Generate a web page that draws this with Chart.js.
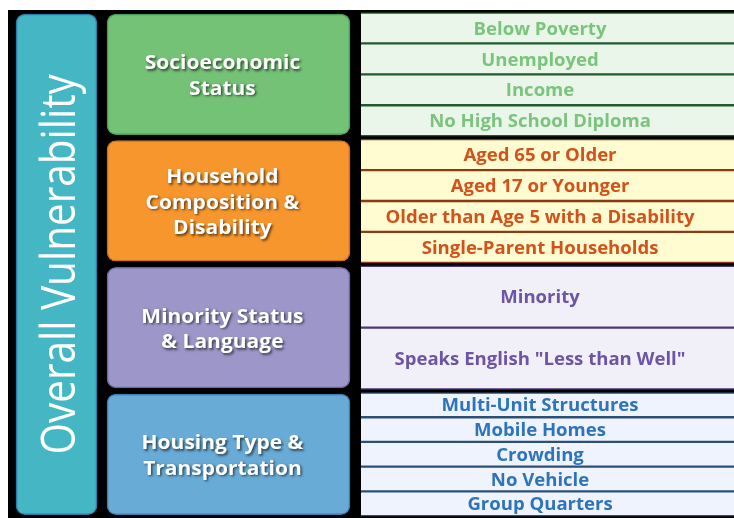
<!DOCTYPE html>
<html><head><meta charset="utf-8">
<script src="https://cdn.jsdelivr.net/npm/chart.js@4"></script>
<style>
html,body{margin:0;padding:0;background:#fff;}
#wrap{position:absolute;left:8px;top:10px;width:726px;height:508px;background:#000;overflow:hidden;}
canvas{display:block;}
</style></head><body>
<div id="wrap"><canvas id="c" width="726" height="508"></canvas></div>
<script>
// ---- data ----
const overallLabel = 'Overall Vulnerability';
const themes = ['Socioeconomic Status', 'Household Composition & Disability', 'Minority Status & Language', 'Housing Type & Transportation'];
const themeLines = [['Socioeconomic', 'Status'], ['Household', 'Composition &', 'Disability'], ['Minority Status', '& Language'], ['Housing Type &', 'Transportation']];
const variables = [
  ['Below Poverty', 'Unemployed', 'Income', 'No High School Diploma'],
  ['Aged 65 or Older', 'Aged 17 or Younger', 'Older than Age 5 with a Disability', 'Single-Parent Households'],
  ['Minority', 'Speaks English "Less than Well"'],
  ['Multi-Unit Structures', 'Mobile Homes', 'Crowding', 'No Vehicle', 'Group Quarters']
];
// ---- styles ----
const overallColor = '#45B6C4', overallBorder = '#2B7DAA';
const themeFill = ['#73C275', '#F7962D', '#9C96C9', '#68ABD6'];
const themeBorder = ['#4F9C57', '#C9701F', '#6F67A4', '#3F7FAF'];
const itemFill = ['#EBF6EA', '#FFFCD2', '#F1F0F8', '#EEF3FD'];
const itemBorder = ['#1F5B2E', '#8B3B12', '#4A3A76', '#2C4F74'];
const itemText = ['#7BC47E', '#D2521B', '#6E54A5', '#2F74BA'];

// ---- layout (fractions of plot width, theme units vertically) ----
const W = 726;
const cols = [[0.011, 0.1226], [0.1364, 0.4711], [0.4862, 1.0]];
const ctr = c => (c[0] + c[1]) / 2;
const thick = c => (c[1] - c[0]) * W;
const gapT = 0.024, gapV = 0.012;

const overallData = [{x: ctr(cols[0]), y: [gapT, themes.length - gapT]}];
const themeData = themes.map((t, i) => ({x: ctr(cols[1]), y: [i + gapT, i + 1 - gapT]}));
const itemData = [], itemFills = [], itemBorders = [], itemLabels = [], itemColors = [];
variables.forEach((vs, i) => {
  const h = (1 - 2 * gapV) / vs.length;
  vs.forEach((v, j) => {
    itemData.push({x: ctr(cols[2]), y: [i + gapV + j * h, i + gapV + (j + 1) * h]});
    itemFills.push(itemFill[i]); itemBorders.push(itemBorder[i]);
    itemLabels.push(v); itemColors.push(itemText[i]);
  });
});

const labelPlugin = {
  id: 'labels',
  afterDatasetsDraw(chart) {
    const ctx = chart.ctx;
    // overall vertical title
    const m0 = chart.getDatasetMeta(0).data[0];
    const cy0 = (m0.y + m0.base) / 2;
    ctx.save();
    const fs0 = 47;
    ctx.font = `500 ${fs0}px "Open Sans"`;
    const tw = ctx.measureText(overallLabel).width;
    const target = Math.abs(m0.base - m0.y) * 0.76;
    const sx = Math.min(1, target / tw);
    ctx.translate(m0.x + fs0 * 0.39, cy0);
    ctx.rotate(-Math.PI / 2);
    ctx.scale(sx, 1);
    ctx.fillStyle = '#FFFFFF';
    ctx.textAlign = 'center';
    ctx.textBaseline = 'alphabetic';
    ctx.fillText(overallLabel, 0, 0);
    ctx.restore();

    // theme labels
    chart.getDatasetMeta(1).data.forEach((el, i) => {
      const lines = themeLines[i];
      const cy = (el.y + el.base) / 2 + 2;
      const cx = el.x - el.width / 2 + el.width * 0.475;
      const lh = 25.5;
      ctx.save();
      ctx.font = `700 20px "Open Sans"`;
      ctx.textAlign = 'center';
      ctx.textBaseline = 'middle';
      ctx.fillStyle = '#FFFFFF';
      ctx.shadowColor = 'rgba(0,0,0,0.6)';
      ctx.shadowOffsetX = 1.5; ctx.shadowOffsetY = 1.5; ctx.shadowBlur = 2.5;
      lines.forEach((ln, k) => {
        const y = cy + (k - (lines.length - 1) / 2) * lh;
        ctx.save();
        ctx.translate(cx, y);
        ctx.scale(1.05, 1);
        ctx.fillText(ln, 0, 0);
        ctx.restore();
      });
      ctx.restore();
    });

    // variable labels
    chart.getDatasetMeta(2).data.forEach((el, i) => {
      const cy = (el.y + el.base) / 2;
      const left = el.x - el.width / 2;
      const cx = left + el.width * 0.48;
      ctx.save();
      ctx.font = `700 18px "Open Sans"`;
      ctx.textAlign = 'center';
      ctx.textBaseline = 'middle';
      ctx.fillStyle = itemColors[i];
      ctx.translate(cx, cy + 1.5);
      ctx.scale(1.03, 1);
      ctx.fillText(itemLabels[i], 0, 0);
      ctx.restore();
    });
  }
};

new Chart(document.getElementById('c'), {
  type: 'bar',
  data: {
    datasets: [
      {label: overallLabel, data: overallData, backgroundColor: overallColor, borderColor: overallBorder,
       borderWidth: 1.5, borderRadius: 9, borderSkipped: false, barThickness: thick(cols[0]), grouped: false},
      {label: 'Themes', data: themeData, backgroundColor: themeFill, borderColor: themeBorder,
       borderWidth: 1.5, borderRadius: 9, borderSkipped: false, barThickness: thick(cols[1]), grouped: false},
      {label: 'Variables', data: itemData, backgroundColor: itemFills, borderColor: itemBorders,
       borderWidth: {top: 1.5, bottom: 1.5, left: 0, right: 0}, borderRadius: 0, borderSkipped: false,
       barThickness: thick(cols[2]), grouped: false}
    ]
  },
  options: {
    responsive: false,
    animation: false,
    devicePixelRatio: 1,
    layout: {padding: 0},
    plugins: {legend: {display: false}, tooltip: {enabled: false}, title: {display: false}},
    scales: {
      x: {type: 'linear', min: 0, max: 1, offset: false, display: false},
      y: {type: 'linear', min: -0.008, max: 4.003, reverse: true, display: false}
    }
  },
  plugins: [labelPlugin]
});
</script>
</body></html>
